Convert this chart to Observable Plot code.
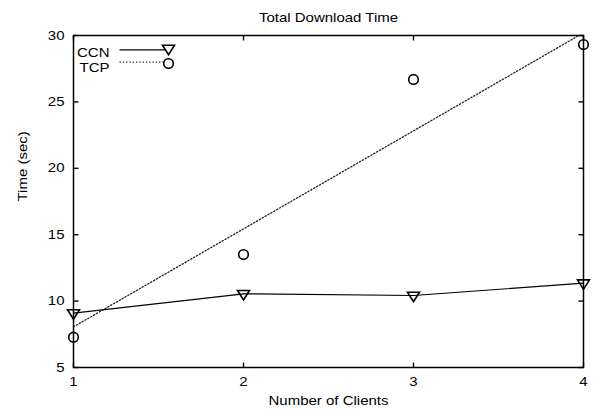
<!DOCTYPE html>
<html>
<head>
<meta charset="utf-8">
<script src="https://cdn.jsdelivr.net/npm/d3@7"></script>
<script src="https://cdn.jsdelivr.net/npm/@observablehq/plot@0.6"></script>
<style>
  html, body { margin: 0; padding: 0; background: #fff; }
</style>
</head>
<body>
<div id="chart"></div>
<script>
// ---- data ----
const titleText = "Total Download Time";
const xLabel = "Number of Clients";
const yLabel = "Time (sec)";
const xTicks = [1, 2, 3, 4];
const yTicks = [5, 10, 15, 20, 25, 30];
const clients = [1, 2, 3, 4];
const ccnTime = [9.1, 10.55, 10.42, 11.35];
const tcpTime = [7.28, 13.51, 26.69, 29.32];
const tcpFitX = [1, 4];
const tcpFitY = [8.06, 30.2];
const seriesNames = ["CCN", "TCP"];

const ccn = clients.map((c, i) => ({x: c, y: ccnTime[i]}));
const tcp = clients.map((c, i) => ({x: c, y: tcpTime[i]}));
const fit = tcpFitX.map((c, i) => ({x: c, y: tcpFitY[i]}));

// ---- symbols ----
const triDown = {draw(ctx) { ctx.moveTo(-6, -3.3); ctx.lineTo(6, -3.3); ctx.lineTo(0, 6.2); ctx.closePath(); }};
const circ = {draw(ctx) { ctx.moveTo(4.8, 0); ctx.arc(0, 0, 4.8, 0, 2 * Math.PI); }};
const seg = {draw(ctx) { ctx.moveTo(-23, 0); ctx.lineTo(23, 0); }};
const tickL = {draw(ctx) { ctx.moveTo(0, 0); ctx.lineTo(5, 0); }};
const tickR = {draw(ctx) { ctx.moveTo(0, 0); ctx.lineTo(-5, 0); }};
const tickB = {draw(ctx) { ctx.moveTo(0, 0); ctx.lineTo(0, -5); }};
const tickT = {draw(ctx) { ctx.moveTo(0, 0); ctx.lineTo(0, 5); }};

const font = "'Liberation Sans', Arial, Helvetica, sans-serif";

const chart = Plot.plot({
  width: 595,
  height: 415,
  marginLeft: 73,
  marginRight: 12,
  marginTop: 35,
  marginBottom: 48,
  style: {fontFamily: font, fontSize: "12.5px", color: "#000", background: "#fff"},
  x: {domain: [1, 4], axis: null},
  y: {domain: [5, 30], axis: null},
  marks: [
    // tick labels
    Plot.axisX({anchor: "bottom", ticks: xTicks, tickSize: 0, tickPadding: 10, label: null, tickFormat: d => d, fill: "#000"}),
    Plot.axisY({anchor: "left", ticks: yTicks, tickSize: 0, tickPadding: 9, label: null, tickFormat: d => d, fill: "#000"}),
    // inward ticks on all four sides
    Plot.dot(yTicks, {y: d => d, frameAnchor: "left", symbol: tickL, stroke: "#000", strokeWidth: 1.4}),
    Plot.dot(yTicks, {y: d => d, frameAnchor: "right", symbol: tickR, stroke: "#000", strokeWidth: 1.4}),
    Plot.dot(xTicks, {x: d => d, frameAnchor: "bottom", symbol: tickB, stroke: "#000", strokeWidth: 1.4}),
    Plot.dot(xTicks, {x: d => d, frameAnchor: "top", symbol: tickT, stroke: "#000", strokeWidth: 1.4}),
    Plot.frame({stroke: "#000", strokeWidth: 1.5}),
    // TCP fit (dotted)
    Plot.line(fit, {x: "x", y: "y", stroke: "#222", strokeWidth: 1.3, strokeDasharray: "1.3,2", clip: true}),
    // CCN line
    Plot.line(ccn, {x: "x", y: "y", stroke: "#000", strokeWidth: 1.2}),
    Plot.dot(ccn, {x: "x", y: "y", symbol: triDown, stroke: "#000", fill: "none", strokeWidth: 1.6}),
    Plot.dot(tcp, {x: "x", y: "y", symbol: circ, stroke: "#000", fill: "none", strokeWidth: 1.6}),
    // legend
    Plot.text([seriesNames[0]], {text: d => d, frameAnchor: "top-left", dx: 36, dy: 13, textAnchor: "end", fill: "#000"}),
    Plot.text([seriesNames[1]], {text: d => d, frameAnchor: "top-left", dx: 36, dy: 28, textAnchor: "end", fill: "#000"}),
    Plot.dot([0], {frameAnchor: "top-left", dx: 69, dy: 14.3, symbol: seg, stroke: "#000", fill: "none", strokeWidth: 1.2}),
    Plot.dot([0], {frameAnchor: "top-left", dx: 69, dy: 26.7, symbol: seg, stroke: "#222", fill: "none", strokeWidth: 1.3, strokeDasharray: "1.3,2"}),
    Plot.dot([0], {frameAnchor: "top-left", dx: 95, dy: 13, symbol: triDown, stroke: "#000", fill: "none", strokeWidth: 1.6}),
    Plot.dot([0], {frameAnchor: "top-left", dx: 95, dy: 28, symbol: circ, stroke: "#000", fill: "none", strokeWidth: 1.6}),
    // title and axis labels
    Plot.text([titleText], {text: d => d, frameAnchor: "top", dy: -22, fill: "#000"}),
    Plot.text([xLabel], {text: d => d, frameAnchor: "bottom", dy: 37, fill: "#000"}),
    Plot.text([yLabel], {text: d => d, frameAnchor: "left", dx: -51, rotate: -90, fill: "#000"})
  ]
});
// widen glyphs horizontally to match the reference's wide Helvetica rendering
d3.select(chart).selectAll("text").each(function() {
  const t = this.getAttribute("transform");
  if (t) this.setAttribute("transform", t + " scale(1.2,1)");
});
document.getElementById("chart").appendChild(chart);
</script>
</body>
</html>
